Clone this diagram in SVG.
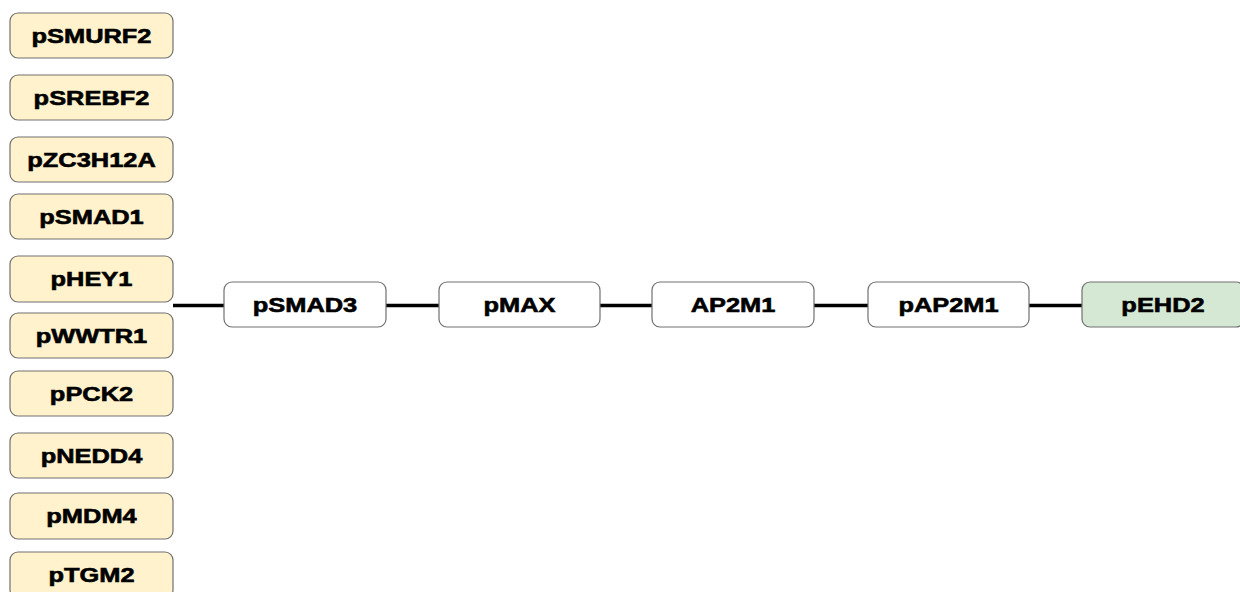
<svg xmlns="http://www.w3.org/2000/svg" width="1240" height="592" viewBox="0 0 1240 592">
<style>
.n rect{stroke:#707070;stroke-width:1.2}
.src rect{fill:#fff2cc}
.mid rect{fill:#ffffff}
.tgt rect{fill:#d5e8d4}
text{font-family:"Liberation Sans",Arial,sans-serif;font-weight:bold;font-size:20.5px;fill:#000;stroke:#000;stroke-width:0.6;text-anchor:middle}
.e{stroke:#000;stroke-width:3.6;fill:none}
</style>
<rect width="1240" height="592" fill="#fff"/>
<g id="connectors">
<line class="e" x1="173" y1="305.5" x2="224" y2="305.5"/>
<line class="e" x1="386" y1="305.5" x2="439" y2="305.5"/>
<line class="e" x1="600" y1="305.5" x2="652" y2="305.5"/>
<line class="e" x1="814" y1="305.5" x2="868" y2="305.5"/>
<line class="e" x1="1029" y1="305.5" x2="1082" y2="305.5"/>
</g>
<g id="pSMURF2" class="n src"><rect x="10" y="13" width="163" height="45" rx="8"/><text transform="translate(91.5,43) scale(1.24,1)">pSMURF2</text></g>
<g id="pSREBF2" class="n src"><rect x="10" y="75" width="163" height="45" rx="8"/><text transform="translate(91.5,105) scale(1.24,1)">pSREBF2</text></g>
<g id="pZC3H12A" class="n src"><rect x="10" y="137" width="163" height="45" rx="8"/><text transform="translate(91.5,167) scale(1.24,1)">pZC3H12A</text></g>
<g id="pSMAD1" class="n src"><rect x="10" y="194" width="163" height="45" rx="8"/><text transform="translate(91.5,224) scale(1.24,1)">pSMAD1</text></g>
<g id="pHEY1" class="n src"><rect x="10" y="256" width="163" height="46" rx="8"/><text transform="translate(91.5,286) scale(1.24,1)">pHEY1</text></g>
<g id="pWWTR1" class="n src"><rect x="10" y="313" width="163" height="45" rx="8"/><text transform="translate(91.5,343) scale(1.24,1)">pWWTR1</text></g>
<g id="pPCK2" class="n src"><rect x="10" y="371" width="163" height="45" rx="8"/><text transform="translate(91.5,401) scale(1.24,1)">pPCK2</text></g>
<g id="pNEDD4" class="n src"><rect x="10" y="433" width="163" height="45" rx="8"/><text transform="translate(91.5,463) scale(1.24,1)">pNEDD4</text></g>
<g id="pMDM4" class="n src"><rect x="10" y="493" width="163" height="46" rx="8"/><text transform="translate(91.5,523) scale(1.24,1)">pMDM4</text></g>
<g id="pTGM2" class="n src"><rect x="10" y="552" width="163" height="46" rx="8"/><text transform="translate(91.5,582) scale(1.24,1)">pTGM2</text></g>
<g id="pSMAD3" class="n mid"><rect x="224" y="282" width="162" height="45" rx="8"/><text transform="translate(305,312) scale(1.24,1)">pSMAD3</text></g>
<g id="pMAX" class="n mid"><rect x="439" y="282" width="161" height="45" rx="8"/><text transform="translate(519.5,312) scale(1.24,1)">pMAX</text></g>
<g id="AP2M1" class="n mid"><rect x="652" y="282" width="162" height="45" rx="8"/><text transform="translate(733,312) scale(1.24,1)">AP2M1</text></g>
<g id="pAP2M1" class="n mid"><rect x="868" y="282" width="161" height="45" rx="8"/><text transform="translate(948.5,312) scale(1.24,1)">pAP2M1</text></g>
<g id="pEHD2" class="n tgt"><rect x="1082" y="282" width="162" height="45" rx="8"/><text transform="translate(1163,312) scale(1.24,1)">pEHD2</text></g>
</svg>
